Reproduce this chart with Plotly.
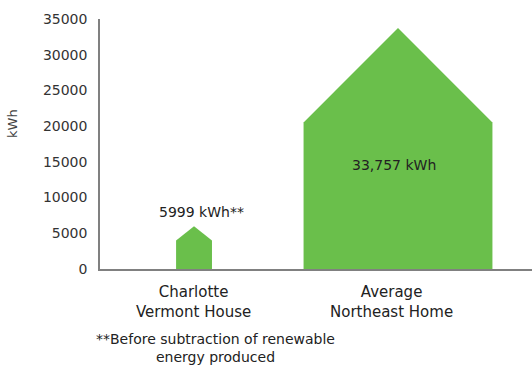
import plotly.graph_objects as go

# Annual energy use per home
categories = ["Charlotte<br>Vermont House", "Average<br>Northeast Home"]
totals_kwh = [5999, 33757]
wall_kwh = [4000, 20500]
value_labels = ["5999 kWh**", "33,757 kWh"]
y_ticks = [0, 5000, 10000, 15000, 20000, 25000, 30000, 35000]
y_tick_text = [str(v) for v in y_ticks]
footnote = "**Before subtraction of renewable<br>energy produced"

# Half-width of each house shape, in category units
half_widths = [0.088, 0.463]
GREEN = "#6abf4b"
FONT = "DejaVu Sans, Verdana, sans-serif"
TEXT = "#222222"
AXIS = "#808080"

fig = go.Figure()
for i, (total, wall, hw) in enumerate(zip(totals_kwh, wall_kwh, half_widths)):
    xs = [i - hw, i - hw, i, i + hw, i + hw, i - hw]
    ys = [0, wall, total, wall, 0, 0]
    fig.add_trace(go.Scatter(
        x=xs, y=ys, fill="toself", fillcolor=GREEN, mode="lines",
        line=dict(width=0, color=GREEN), hoverinfo="skip", showlegend=False,
    ))

# Value labels: small home above its roof, large home inside its walls
fig.add_annotation(x=0, y=totals_kwh[0], yshift=14, xshift=7, text=value_labels[0],
                   showarrow=False, font=dict(size=14, color=TEXT, family=FONT))
fig.add_annotation(x=1, y=wall_kwh[1] * 0.71, xshift=-4, text=value_labels[1],
                   showarrow=False, font=dict(size=14, color=TEXT, family=FONT))

# Category labels under the baseline
for i, (cat, dx) in enumerate(zip(categories, [-1, -6])):
    fig.add_annotation(x=i, y=0, yref="y", xshift=dx, yshift=-12, text=cat,
                       showarrow=False, yanchor="top",
                       font=dict(size=15, color=TEXT, family=FONT))

# Footnote
fig.add_annotation(xref="paper", yref="paper", x=(215 - 100) / 432, y=-0.238,
                   text=footnote, showarrow=False, xanchor="center", yanchor="top",
                   font=dict(size=14, color=TEXT, family=FONT))

# Axis title
fig.add_annotation(xref="paper", yref="paper", x=(12 - 100) / 432,
                   y=(269 - 124) / 250, text="kWh", textangle=-90, showarrow=False,
                   xanchor="center", yanchor="middle",
                   font=dict(size=13, color="#444", family=FONT))

fig.update_layout(
    width=532, height=368,
    margin=dict(l=100, r=0, t=19, b=99),
    paper_bgcolor="white", plot_bgcolor="white",
    font=dict(family=FONT, size=13, color="#333"),
    xaxis=dict(
        range=[-0.461, 1.657], showticklabels=False,
        showgrid=False, zeroline=False, showline=True,
        linecolor=AXIS, linewidth=2, ticks="",
    ),
    yaxis=dict(
        range=[0, 35000], tickvals=y_ticks, ticktext=y_tick_text,
        showgrid=False, zeroline=False, showline=True,
        linecolor=AXIS, linewidth=1.5, ticks="", ticklabelstandoff=8,
        tickfont=dict(size=14, color="#333", family=FONT),
    ),
)

fig.write_html("out.html")
